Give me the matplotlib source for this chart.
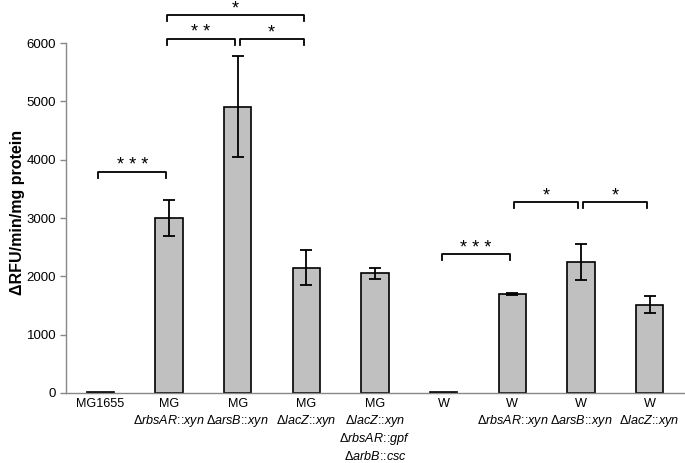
import matplotlib
matplotlib.use("Agg")
import matplotlib.pyplot as plt
import matplotlib.transforms as mtransforms
import numpy as np

plt.rcParams['font.family'] = ['Liberation Sans', 'DejaVu Sans']
plt.rcParams['mathtext.fontset'] = 'custom'
plt.rcParams['mathtext.rm'] = 'Liberation Sans'
plt.rcParams['mathtext.it'] = 'Liberation Sans:italic'
plt.rcParams['mathtext.bf'] = 'Liberation Sans:bold'

# ---- data ----
categories = [
    ["MG1655"],
    ["MG", "$\\Delta\\mathit{rbsAR}$::$\\mathit{xyn}$"],
    ["MG", "$\\Delta\\mathit{arsB}$::$\\mathit{xyn}$"],
    ["MG", "$\\Delta\\mathit{lacZ}$::$\\mathit{xyn}$"],
    ["MG", "$\\Delta\\mathit{lacZ}$::$\\mathit{xyn}$",
     "$\\Delta\\mathit{rbsAR}$::$\\mathit{gpf}$",
     "$\\Delta\\mathit{arbB}$::$\\mathit{csc}$"],
    ["W"],
    ["W", "$\\Delta\\mathit{rbsAR}$::$\\mathit{xyn}$"],
    ["W", "$\\Delta\\mathit{arsB}$::$\\mathit{xyn}$"],
    ["W", "$\\Delta\\mathit{lacZ}$::$\\mathit{xyn}$"],
]
values = [10, 3000, 4910, 2150, 2050, 10, 1700, 2240, 1510]
errors = [0, 305, 860, 305, 90, 0, 18, 310, 145]
has_err = [False, True, True, True, True, False, True, True, True]

# significance brackets: (start index, end index, height, label)
brackets = [
    (0, 1, 3790, "* * *"),
    (1, 2, 6070, "* *"),
    (2, 3, 6070, "*"),
    (1, 3, 6480, "*"),
    (5, 6, 2380, "* * *"),
    (6, 7, 3275, "*"),
    (7, 8, 3275, "*"),
]

yticks = [0, 1000, 2000, 3000, 4000, 5000, 6000]

# ---- figure ----
fig = plt.figure(figsize=(6.85, 4.63), dpi=100)
ax = fig.add_axes([0.0964, 0.1512, 0.9021, 0.7559])

x = np.arange(len(values))
ax.bar(x, values, width=0.4, color="#c0c0c0", edgecolor="black", linewidth=1.2, zorder=2)
for xi, v, e, h in zip(x, values, errors, has_err):
    if h:
        ax.errorbar(xi, v, yerr=e, fmt="none", ecolor="black", elinewidth=1.3,
                    capsize=4, capthick=1.3, zorder=3)

ax.set_xlim(-0.5, len(values) - 0.5)
ax.set_ylim(0, 6000)
ax.set_yticks(yticks)
ax.set_yticklabels([str(t) for t in yticks], fontsize=9.5)
ax.set_xticks(x)
ax.set_xticklabels([])
ax.tick_params(axis="x", length=0)
ax.tick_params(axis="y", length=4, color="#888888", width=1, pad=3)

for s in ["top", "right"]:
    ax.spines[s].set_visible(False)
for s in ["left", "bottom"]:
    ax.spines[s].set_color("#888888")
    ax.spines[s].set_linewidth(1)

# multi-line category labels with fixed line spacing
trans = mtransforms.blended_transform_factory(ax.transData, ax.transAxes)
line_offsets_px = [11, 28, 46, 64]   # pixel distance below axis for each line centre
for xi, lines in zip(x, categories):
    for k, line in enumerate(lines):
        off = mtransforms.offset_copy(trans, fig=fig, x=0, y=-line_offsets_px[k] * 72 / 100,
                                      units="points")
        ax.text(xi, 0, line, transform=off, ha="center", va="center", fontsize=9.1)

fig.text(18 / 685, 1 - 212 / 463, "ΔRFU/min/mg protein", rotation=90, fontsize=11.5,
         fontweight="bold", ha="center", va="center")

tick_h = 100
for i, j, y, lab in brackets:
    x0 = i - 0.03
    x1 = j - 0.04
    if (i, j) in [(2, 3), (7, 8), (6, 7)]:
        x0 = i + 0.03
    ax.plot([x0, x0, x1, x1], [y - tick_h, y, y, y - tick_h], color="black",
            lw=1.3, clip_on=False, zorder=4)
    ax.text((x0 + x1) / 2, y - 40, lab, ha="center", va="bottom", fontsize=13,
            clip_on=False)

fig.savefig("out.png", dpi=100)
